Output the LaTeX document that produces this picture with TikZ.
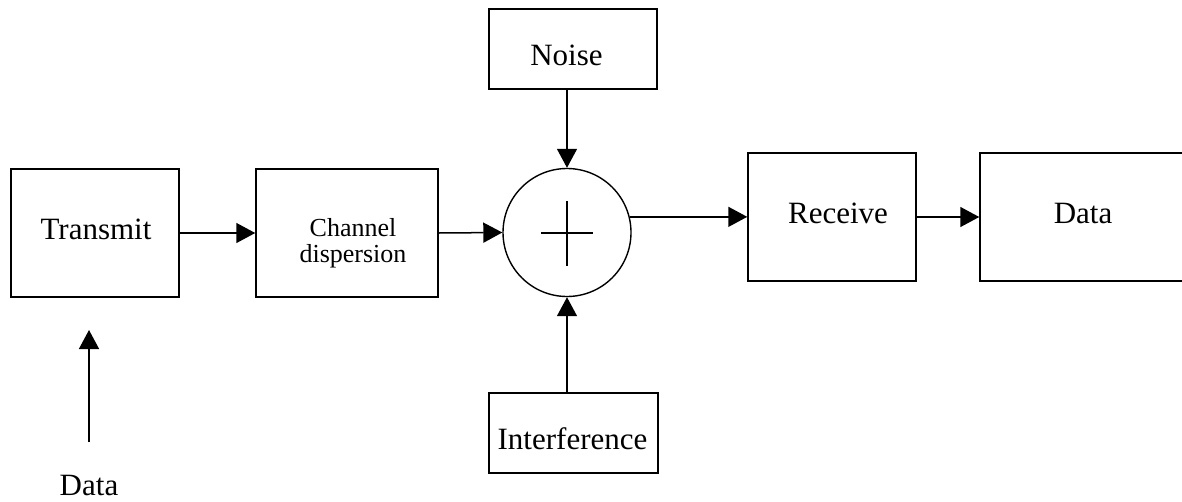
\documentclass[tikz,border=0pt]{standalone}
\usepackage{fontspec}
\setmainfont{Liberation Serif}
\usetikzlibrary{arrows.meta}
\begin{document}
\begin{tikzpicture}[x=1pt,y=-1pt,
  blk/.style={draw, line width=1.5pt, rectangle, inner sep=0pt},
  arr/.style={line width=1.5pt, -{Triangle[length=19pt,width=20pt]}},
  txt/.style={inner sep=0pt, font=\fontsize{31}{36}\selectfont},
  small/.style={inner sep=0pt, align=center, font=\fontsize{26}{26}\selectfont},
]
\useasboundingbox (0,0) rectangle (1182,501);

% blocks
\node[blk, minimum width=168pt, minimum height=128pt] (tx) at (95,233) {};
\node[blk, minimum width=182pt, minimum height=128pt] (ch) at (347,233) {};
\node[blk, minimum width=168pt, minimum height=80pt] (noise) at (573,49) {};
\node[blk, minimum width=169pt, minimum height=80pt] (intf) at (573.5,433) {};
\node[blk, minimum width=168pt, minimum height=128pt] (rec) at (832,217) {};
\node[blk, minimum width=206pt, minimum height=128pt] (dat) at (1083,217) {};

% block captions
\node[txt] (txT) at (96,229.5) {Transmit};
\node[small] (chT) at (353,243) {Channel\\dispersion};
\node[txt] (noiseT) at (566.5,55) {Noise};
\node[txt] (intfT) at (572.5,438.5) {Interference};
\node[txt] (recT) at (838,213) {Receive};
\node[txt] (datT) at (1083,213) {Data};

% summing junction
\node[draw, circle, line width=1.4pt, minimum size=128pt, inner sep=0pt] (sum) at (567,232.5) {};
\draw[line width=1.5pt] (541,233) -- (593,233);
\draw[line width=1.5pt] (567,201) -- (567,266);

% input data
\node[txt] (din) at (89,485) {Data};
\coordinate (inBase) at (89,442);
\coordinate (inTip) at (89,330);

% connectors
\draw[arr] (inBase) -- (inTip);
\draw[arr] (tx.east) -- (ch.west);
\draw[arr] (ch.east) -- (sum.west);
\draw[arr] (noise.south -| sum.north) -- (sum.north);
\draw[arr] (intf.north -| sum.south) -- (sum.south);
\draw[arr] (sum.14) -- (sum.14 -| rec.west);
\draw[arr] (rec.east) -- (dat.west);
\end{tikzpicture}
\end{document}
